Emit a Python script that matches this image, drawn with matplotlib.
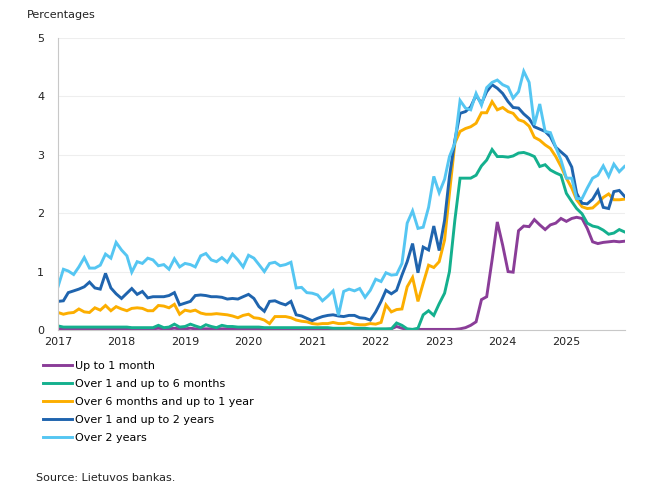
import matplotlib
matplotlib.use('Agg')
import matplotlib.pyplot as plt
import matplotlib.dates as mdates
import pandas as pd

plt.rcParams['font.family'] = ['DejaVu Sans']

# monthly data, Jan 2017 - Dec 2025
months = pd.date_range('2017-01-01', periods=108, freq='MS')

up_to_1m = [
    0.02, 0.02, 0.02, 0.02, 0.02, 0.02, 0.02, 0.02, 0.02, 0.02, 0.02, 0.02,
    0.02, 0.02, 0.02, 0.02, 0.02, 0.02, 0.02, 0.03, 0.02, 0.02, 0.03, 0.02,
    0.02, 0.03, 0.02, 0.02, 0.02, 0.02, 0.02, 0.02, 0.02, 0.02, 0.02, 0.02,
    0.01, 0.01, 0.01, 0.01, 0.01, 0.01, 0.01, 0.01, 0.01, 0.01, 0.01, 0.01,
    0.01, 0.01, 0.01, 0.01, 0.01, 0.01, 0.01, 0.01, 0.01, 0.01, 0.01, 0.01,
    0.01, 0.01, 0.01, 0.02, 0.06, 0.03, 0.01, 0.01, 0.01, 0.01, 0.01, 0.01,
    0.01, 0.01, 0.01, 0.01, 0.02, 0.04, 0.08, 0.14, 0.52, 0.57, 1.20, 1.85,
    1.45, 1.00, 0.99, 1.70, 1.78, 1.77, 1.89, 1.80, 1.72, 1.80, 1.83, 1.91,
    1.86, 1.91, 1.93, 1.91, 1.74, 1.51, 1.48, 1.50, 1.51, 1.52, 1.51, 1.52,
]
over_1m_6m = [
    0.07, 0.05, 0.05, 0.05, 0.05, 0.05, 0.05, 0.05, 0.05, 0.05, 0.05, 0.05,
    0.05, 0.05, 0.04, 0.04, 0.04, 0.04, 0.04, 0.08, 0.04, 0.05, 0.10, 0.05,
    0.06, 0.10, 0.07, 0.04, 0.09, 0.06, 0.04, 0.08, 0.06, 0.06, 0.05, 0.05,
    0.05, 0.05, 0.05, 0.04, 0.04, 0.04, 0.04, 0.04, 0.04, 0.04, 0.04, 0.04,
    0.04, 0.04, 0.04, 0.04, 0.03, 0.03, 0.03, 0.03, 0.03, 0.03, 0.03, 0.02,
    0.02, 0.02, 0.02, 0.02, 0.12, 0.08, 0.02, 0.01, 0.03, 0.26, 0.33, 0.25,
    0.45, 0.63, 1.00, 1.88, 2.60, 2.60, 2.60, 2.65, 2.81, 2.91, 3.09, 2.97,
    2.97, 2.96, 2.98, 3.03, 3.04, 3.01, 2.97, 2.80, 2.83, 2.74, 2.69, 2.65,
    2.34, 2.20, 2.08, 1.99, 1.83, 1.78, 1.76, 1.71, 1.64, 1.66, 1.72, 1.68,
]
over_6m_1y = [
    0.30, 0.27, 0.29, 0.30, 0.36, 0.31, 0.30, 0.38, 0.34, 0.42, 0.33, 0.40,
    0.36, 0.33, 0.37, 0.38, 0.37, 0.33, 0.33, 0.42, 0.41, 0.38, 0.44, 0.27,
    0.34, 0.32, 0.34, 0.29, 0.27, 0.27, 0.28, 0.27, 0.26, 0.24, 0.21, 0.25,
    0.27, 0.21, 0.20, 0.17, 0.11, 0.23, 0.23, 0.23, 0.21, 0.17, 0.15, 0.14,
    0.11, 0.10, 0.11, 0.11, 0.13, 0.11, 0.11, 0.13, 0.10, 0.09, 0.09, 0.11,
    0.10, 0.13, 0.43, 0.31, 0.35, 0.36, 0.74, 0.90, 0.49, 0.80, 1.11, 1.07,
    1.17, 1.54, 2.34, 3.20, 3.40, 3.45, 3.48, 3.54, 3.72, 3.72, 3.91, 3.77,
    3.81, 3.74, 3.71, 3.60, 3.57, 3.49, 3.30, 3.25, 3.17, 3.11, 2.97, 2.80,
    2.60, 2.43, 2.23, 2.11, 2.08, 2.09, 2.17, 2.27, 2.33, 2.23, 2.23, 2.24,
]
over_1y_2y = [
    0.49, 0.50, 0.64, 0.67, 0.70, 0.74, 0.82, 0.72, 0.70, 0.97, 0.72, 0.62,
    0.54, 0.63, 0.71, 0.61, 0.66, 0.55, 0.57, 0.57, 0.57, 0.59, 0.64, 0.43,
    0.46, 0.49, 0.59, 0.60, 0.59, 0.57, 0.57, 0.56, 0.53, 0.54, 0.53, 0.57,
    0.61, 0.54, 0.40, 0.32, 0.49, 0.50, 0.46, 0.43, 0.49, 0.26, 0.24, 0.20,
    0.16, 0.20, 0.23, 0.25, 0.26, 0.24, 0.23, 0.25, 0.25, 0.21, 0.20, 0.17,
    0.31, 0.49, 0.68, 0.62, 0.68, 0.94, 1.17, 1.48, 0.98, 1.42, 1.37, 1.78,
    1.36, 1.88, 2.63, 3.25, 3.71, 3.74, 3.82, 4.02, 3.88, 4.08, 4.20, 4.14,
    4.05, 3.91, 3.81, 3.80, 3.70, 3.62, 3.48, 3.44, 3.40, 3.31, 3.13, 3.05,
    2.97, 2.79, 2.34, 2.17, 2.16, 2.24, 2.39, 2.10, 2.08, 2.37, 2.39, 2.29,
]
over_2y = [
    0.74, 1.04, 1.01, 0.95, 1.08, 1.24, 1.06, 1.06, 1.11, 1.30, 1.23, 1.50,
    1.37, 1.27, 0.99, 1.17, 1.14, 1.23, 1.20, 1.10, 1.12, 1.04, 1.22, 1.08,
    1.14, 1.12, 1.08, 1.27, 1.31, 1.20, 1.17, 1.24, 1.16, 1.30, 1.20, 1.08,
    1.28, 1.23, 1.12, 1.00, 1.14, 1.16, 1.10, 1.12, 1.16, 0.72, 0.73, 0.64,
    0.63, 0.60, 0.50, 0.58, 0.67, 0.25, 0.66, 0.70, 0.67, 0.71, 0.56, 0.68,
    0.87, 0.83, 0.98, 0.94, 0.95, 1.14, 1.83, 2.04, 1.74, 1.76, 2.10, 2.63,
    2.35, 2.58, 2.97, 3.20, 3.93, 3.80, 3.77, 4.05, 3.85, 4.15, 4.24, 4.28,
    4.20, 4.16, 3.97, 4.08, 4.43, 4.24, 3.51, 3.87, 3.40, 3.38, 3.13, 2.91,
    2.60, 2.60, 2.25, 2.25, 2.43, 2.60, 2.65, 2.81, 2.63, 2.84, 2.71, 2.80,
]

series = [
    ('Up to 1 month', up_to_1m, '#8a3d98'),
    ('Over 1 and up to 6 months', over_1m_6m, '#14b08e'),
    ('Over 6 months and up to 1 year', over_6m_1y, '#fcae00'),
    ('Over 1 and up to 2 years', over_1y_2y, '#1f64ae'),
    ('Over 2 years', over_2y, '#55c6f2'),
]

fig = plt.figure(figsize=(6.5, 5), dpi=100)
ax = fig.add_axes([58/650, 1-330/500, 567/650, 292/500])

for label, vals, col in series:
    ax.plot(months, vals, color=col, lw=2.1, label=label, solid_joinstyle='miter')

ax.set_ylim(0, 5)
ax.set_yticks([0, 1, 2, 3, 4, 5])
ax.set_xlim(months[0], months[-1] + pd.Timedelta(days=3))
ax.xaxis.set_major_locator(mdates.YearLocator())
ax.xaxis.set_major_formatter(mdates.DateFormatter('%Y'))

ax.grid(axis='y', color='#eeeeee', lw=0.8)
ax.set_axisbelow(True)
for s in ['top', 'right']:
    ax.spines[s].set_visible(False)
ax.spines['left'].set_color('#c8c8c8')
ax.spines['bottom'].set_color('#c8c8c8')
ax.tick_params(axis='both', length=0, labelsize=8, colors='#222222')
ax.tick_params(axis='y', pad=10)
ax.tick_params(axis='x', pad=5)

fig.text(27/650, 1-15/500, 'Percentages', fontsize=8, va='center', ha='left', color='#222222')

ax.legend(loc='upper left', bbox_to_anchor=(43/650, 1-361/500), bbox_transform=fig.transFigure,
          frameon=False, fontsize=8, handlelength=2.6, handletextpad=0.25,
          labelspacing=0.72, borderpad=0, borderaxespad=0)

fig.text(36/650, 1-478/500, 'Source: Lietuvos bankas.', fontsize=8, va='center', ha='left', color='#222222')

fig.savefig('out.png', dpi=100)
